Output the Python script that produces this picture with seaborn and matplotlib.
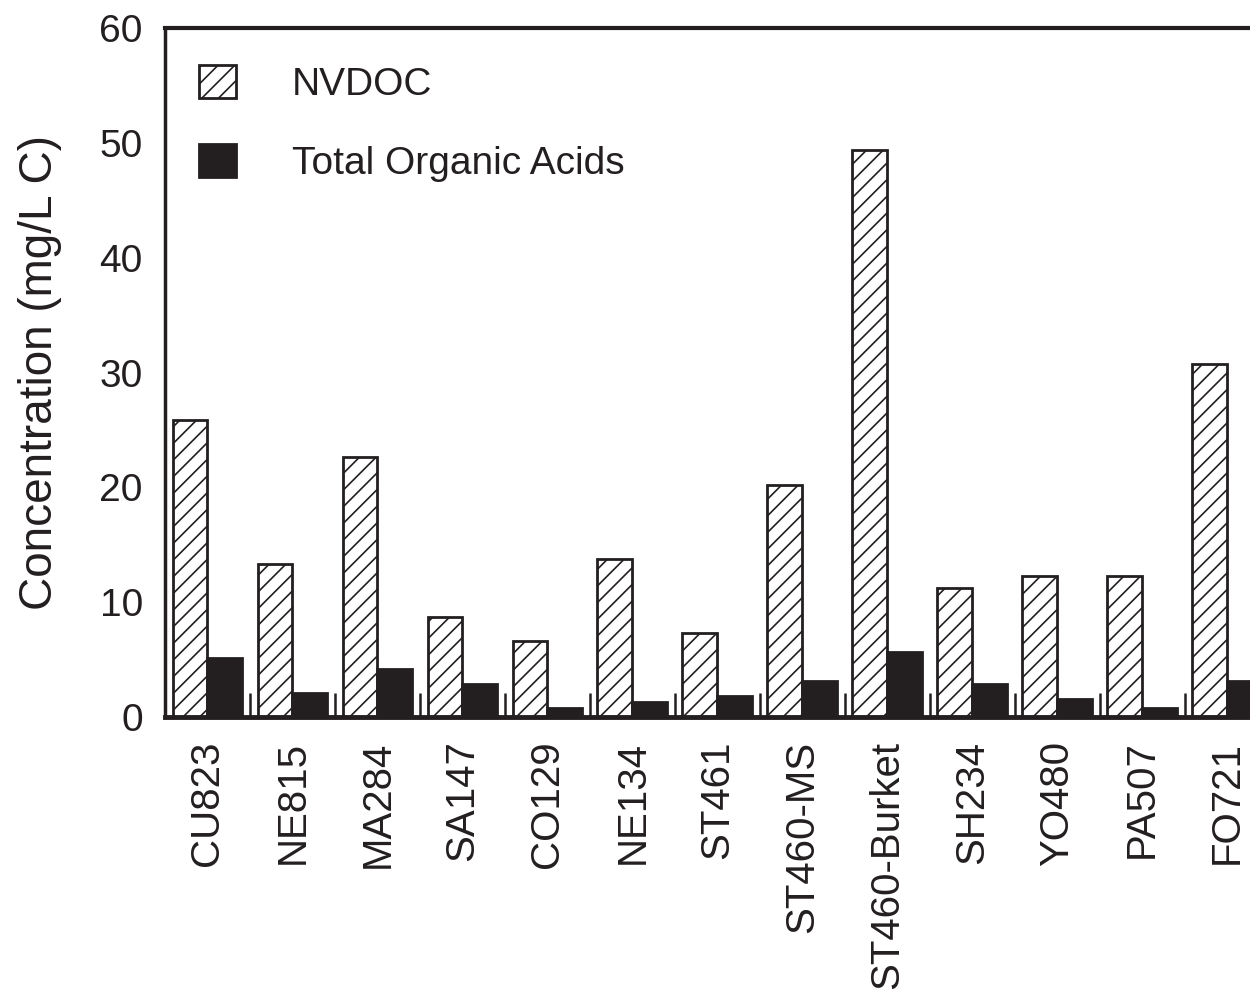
import matplotlib
matplotlib.use("Agg")
import matplotlib.pyplot as plt
import seaborn as sns
import pandas as pd
import numpy as np

# Sample sites and measured concentrations (mg/L C)
sites = ["CU823", "NE815", "MA284", "SA147", "CO129", "NE134", "ST461",
         "ST460-MS", "ST460-Burket", "SH234", "YO480", "PA507", "FO721"]
nvdoc = [25.9, 13.3, 22.6, 8.7, 6.6, 13.8, 7.3, 20.2, 49.4, 11.2, 12.3, 12.3, 30.7]
organic_acids = [5.1, 2.1, 4.2, 2.9, 0.8, 1.3, 1.8, 3.1, 5.7, 2.9, 1.6, 0.8, 3.1]
series_names = ["NVDOC", "Total Organic Acids"]
y_ticks = [0, 10, 20, 30, 40, 50, 60]

INK = "#231f20"

sns.set_theme(style="white")
plt.rcParams["font.family"] = ["Liberation Sans", "DejaVu Sans"]
plt.rcParams["hatch.linewidth"] = 1.2
plt.rcParams["hatch.color"] = "#444444"

df = pd.DataFrame({
    "site": sites * 2,
    "value": nvdoc + organic_acids,
    "series": [series_names[0]] * len(sites) + [series_names[1]] * len(sites),
})

fig = plt.figure(figsize=(12.5, 9.94), dpi=100)
ax = fig.add_axes([0.132, 0.2787, 0.868, 0.6931])

sns.barplot(data=df, x="site", y="value", hue="series", order=sites,
            hue_order=series_names, palette=["white", INK], width=0.82,
            dodge=True, gap=0, edgecolor=INK, linewidth=2.0, ax=ax,
            legend=True)

# hatched open bars for NVDOC
for bar in ax.containers[0]:
    bar.set_hatch("//")
    bar.set_facecolor("white")
    bar.set_edgecolor(INK)
for bar in ax.containers[1]:
    bar.set_facecolor(INK)
    bar.set_edgecolor(INK)

ax.set_xlim(-0.5, 12.27)
ax.set_ylim(0, 60)
ax.set_yticks(y_ticks)
ax.set_yticklabels([str(v) for v in y_ticks], fontsize=28, color=INK)
ax.tick_params(axis="y", length=0, pad=16)

ax.set_xticks(range(len(sites)))
ax.set_xticklabels(sites, rotation=90, fontsize=29, color=INK)
ax.tick_params(axis="x", which="major", length=0, pad=17)
ax.set_xticks(np.arange(len(sites) - 1) + 0.5, minor=True)
ax.tick_params(axis="x", which="minor", direction="in", length=17,
               width=1.8, color=INK, bottom=True)

ax.set_xlabel("")
ax.set_ylabel("Concentration (mg/L C)", fontsize=33, color=INK, labelpad=27)

for side in ["left", "top", "bottom"]:
    ax.spines[side].set_visible(True)
    ax.spines[side].set_color(INK)
ax.spines["left"].set_linewidth(2.5)
ax.spines["top"].set_linewidth(3)
ax.spines["bottom"].set_linewidth(3.5)
ax.spines["right"].set_visible(False)

handles, labels = ax.get_legend_handles_labels()
leg = ax.legend(handles, labels, loc="upper left",
                bbox_to_anchor=(0.031, 0.947), frameon=False, fontsize=28,
                handlelength=0.95, handleheight=0.95, handletextpad=1.45,
                labelspacing=1.05, borderpad=0, borderaxespad=0)
for t in leg.get_texts():
    t.set_color(INK)
leg.legend_handles[0].set_hatch("//")
leg.legend_handles[0].set_facecolor("white")
leg.legend_handles[0].set_edgecolor(INK)
leg.legend_handles[1].set_facecolor(INK)

fig.savefig("out.png", dpi=100)
